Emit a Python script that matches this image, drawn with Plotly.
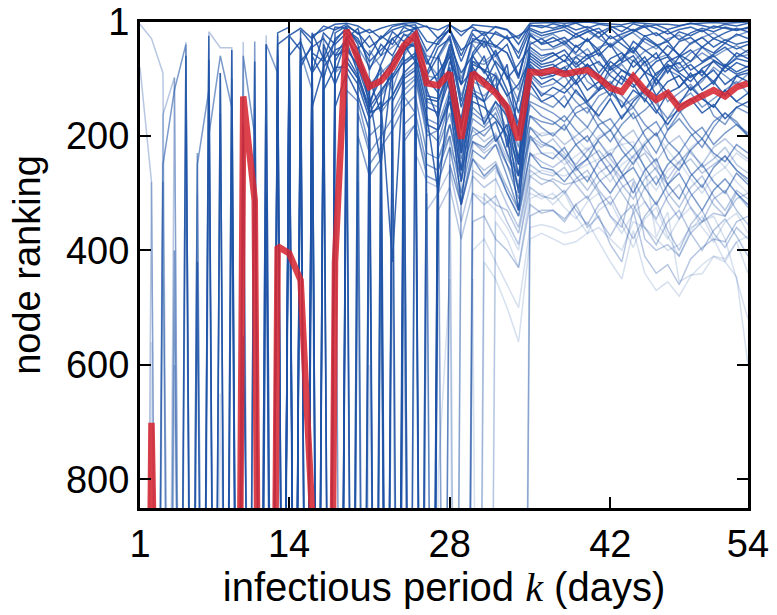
import plotly.graph_objects as go

# ---------------- data ----------------
k_days = list(range(1, 55))

# highlighted node (red)
red_node = [3000, 701, 3000, 3000, 3000, 3000, 3000, 3000, 3000, 131, 312, 3000, 393, 405, 452, 860, 3000, 420,
            15, 65, 114, 104, 80, 42, 24, 108, 112, 90, 205, 90, 106, 125, 150, 207, 88, 90,
            85, 92, 88, 85, 99, 116, 123, 96, 120, 137, 125, 151, 140, 130, 120, 131, 115, 108]

# dark (top-ranked) nodes
d01 = [3000, 3000, 3000, 3000, 3000, 3000, 3000, 3000, 3000, 3000, 3000, 3000, 40, 25, 12, 30, 8, 15,
       5, 22, 14, 30, 9, 4, 12, 8, 30, 6, 18, 10, 25, 9, 14, 40, 6, 11,
       4, 9, 3, 12, 5, 8, 18, 4, 10, 6, 14, 9, 3, 7, 12, 5, 8, 3]
d02 = [3000, 3000, 3000, 3000, 3000, 3000, 3000, 3000, 3000, 180, 3000, 3000, 3000, 60, 35, 90, 20, 40,
       20, 48, 25, 60, 18, 35, 10, 52, 28, 15, 70, 22, 45, 18, 30, 25, 12, 20,
       15, 10, 22, 14, 28, 12, 30, 18, 9, 25, 16, 32, 20, 12, 18, 10, 15, 12]
d03 = [3000, 3000, 3000, 3000, 60, 3000, 3000, 3000, 3000, 3000, 3000, 3000, 50, 3000, 70, 45, 30, 60,
       30, 12, 85, 40, 60, 22, 35, 90, 45, 30, 140, 55, 28, 60, 40, 95, 25, 38,
       28, 40, 22, 35, 18, 45, 30, 52, 25, 40, 60, 35, 28, 45, 30, 38, 22, 30]
d04 = [3000, 3000, 3000, 3000, 3000, 3000, 25, 3000, 3000, 3000, 3000, 3000, 3000, 120, 3000, 55, 70, 35,
       10, 40, 150, 75, 30, 55, 20, 65, 110, 40, 90, 60, 35, 75, 120, 180, 40, 30,
       45, 35, 55, 30, 60, 40, 70, 35, 50, 65, 42, 58, 70, 45, 55, 38, 48, 40]
d05 = [3000, 3000, 3000, 3000, 3000, 3000, 3000, 3000, 3000, 3000, 3000, 40, 3000, 30, 3000, 150, 80, 50,
       40, 3000, 100, 160, 65, 40, 70, 95, 60, 120, 170, 60, 90, 50, 100, 75, 45, 60,
       55, 70, 42, 60, 50, 80, 65, 45, 72, 55, 90, 62, 50, 70, 58, 45, 62, 50]
d06 = [3000, 3000, 3000, 3000, 3000, 3000, 3000, 3000, 3000, 3000, 3000, 3000, 3000, 25, 50, 3000, 45, 3000,
       25, 70, 120, 80, 3000, 35, 45, 110, 90, 55, 190, 70, 85, 120, 75, 200, 55, 70,
       60, 50, 75, 58, 90, 65, 55, 80, 62, 95, 70, 60, 85, 72, 60, 78, 55, 65]
d07 = [3000, 3000, 3000, 3000, 3000, 420, 3000, 3000, 50, 3000, 3000, 3000, 3000, 3000, 80, 40, 3000, 60,
       50, 75, 130, 250, 80, 50, 40, 120, 170, 70, 110, 85, 140, 95, 130, 110, 65, 80,
       75, 90, 62, 80, 70, 95, 110, 68, 88, 100, 75, 90, 105, 82, 70, 88, 72, 80]
d08 = [3000, 3000, 3000, 3000, 3000, 3000, 3000, 3000, 3000, 3000, 3000, 180, 3000, 3000, 3000, 90, 60, 110,
       60, 95, 150, 120, 95, 60, 3000, 135, 140, 85, 230, 95, 60, 125, 150, 250, 75, 95,
       90, 80, 105, 75, 95, 110, 85, 100, 120, 90, 78, 115, 95, 88, 105, 80, 92, 85]
d09 = [3000, 3000, 3000, 3000, 3000, 3000, 3000, 3000, 3000, 3000, 70, 3000, 3000, 3000, 3000, 3000, 120, 80,
       80, 110, 170, 140, 420, 75, 60, 150, 160, 100, 260, 110, 180, 140, 165, 270, 90, 110,
       100, 115, 90, 120, 105, 130, 95, 110, 140, 100, 125, 115, 90, 120, 105, 130, 95, 105]
d10 = [3000, 3000, 3000, 3000, 3000, 3000, 3000, 90, 3000, 3000, 3000, 3000, 3000, 3000, 100, 3000, 3000, 70,
       35, 90, 160, 150, 130, 90, 70, 165, 300, 115, 280, 125, 140, 210, 180, 300, 100, 130,
       115, 125, 105, 140, 120, 110, 150, 120, 135, 160, 125, 145, 115, 135, 150, 120, 140, 125]
d11 = [3000, 3000, 3000, 3000, 3000, 3000, 3000, 3000, 3000, 3000, 3000, 3000, 20, 10, 3000, 25, 15, 5,
       3, 8, 20, 12, 6, 3, 2, 10, 15, 5, 25, 6, 8, 10, 15, 30, 3, 2,
       2, 3, 2, 1, 3, 5, 6, 2, 4, 5, 5, 7, 4, 3, 2, 3, 2, 1]
d12 = [3000, 3000, 3000, 3000, 3000, 3000, 3000, 3000, 3000, 3000, 3000, 3000, 3000, 45, 3000, 3000, 3000, 150,
       90, 130, 190, 3000, 140, 100, 85, 180, 190, 130, 320, 140, 150, 170, 200, 330, 110, 140,
       130, 150, 120, 145, 165, 135, 170, 140, 120, 155, 180, 150, 135, 160, 145, 170, 150, 140]
d13 = [3000, 3000, 3000, 3000, 3000, 3000, 3000, 3000, 3000, 3000, 3000, 3000, 3000, 3000, 15, 40, 3000, 20,
       8, 20, 45, 30, 15, 8, 6, 35, 40, 12, 60, 15, 18, 22, 30, 55, 8, 7,
       12, 6, 15, 9, 20, 10, 8, 16, 6, 12, 22, 14, 10, 18, 8, 12, 16, 10]
d14 = [3000, 3000, 3000, 3000, 3000, 3000, 67, 3000, 3000, 3000, 3000, 3000, 3000, 45, 3000, 60, 100, 30,
       15, 30, 70, 50, 30, 18, 12, 3000, 60, 25, 110, 30, 35, 42, 55, 100, 22, 40,
       35, 28, 45, 32, 50, 25, 40, 55, 30, 42, 35, 60, 38, 28, 45, 32, 40, 35]
d15 = [3000, 3000, 3000, 3000, 3000, 3000, 3000, 3000, 3000, 3000, 3000, 300, 3000, 3000, 3000, 3000, 90, 3000,
       45, 80, 140, 100, 70, 45, 38, 3000, 110, 60, 180, 75, 85, 95, 220, 130, 60, 75,
       70, 58, 80, 65, 55, 85, 72, 60, 90, 70, 62, 88, 75, 95, 68, 80, 65, 70]
d16 = [3000, 3000, 3000, 3000, 3000, 3000, 3000, 3000, 3000, 550, 3000, 3000, 3000, 3000, 30, 3000, 3000, 3000,
       70, 100, 160, 125, 90, 3000, 48, 130, 135, 80, 220, 90, 100, 120, 145, 240, 80, 100,
       95, 85, 110, 90, 120, 80, 100, 115, 90, 130, 105, 95, 120, 100, 85, 110, 95, 90]
d17 = [3000, 3000, 3000, 3000, 3000, 3000, 3000, 3000, 3000, 3000, 3000, 3000, 3000, 3000, 3000, 20, 65, 10,
       12, 35, 60, 25, 40, 10, 20, 75, 35, 15, 50, 35, 20, 45, 25, 65, 15, 25,
       20, 15, 28, 18, 12, 30, 22, 14, 26, 20, 35, 18, 25, 15, 30, 20, 12, 18]
d18 = [3000, 3000, 3000, 3000, 3000, 3000, 3000, 3000, 220, 3000, 3000, 3000, 60, 3000, 3000, 3000, 40, 90,
       30, 60, 110, 3000, 100, 70, 55, 100, 125, 45, 150, 80, 110, 70, 95, 160, 70, 85,
       80, 68, 90, 75, 100, 70, 85, 95, 70, 110, 80, 72, 98, 85, 110, 75, 88, 78]

# medium nodes
m01 = [3000, 3000, 3000, 3000, 3000, 250, 120, 3000, 3000, 3000, 3000, 3000, 3000, 3000, 3000, 60, 3000, 3000,
       3000, 45, 80, 60, 45, 25, 20, 60, 65, 30, 100, 35, 40, 45, 55, 95, 20, 30,
       22, 35, 28, 18, 30, 42, 26, 20, 36, 48, 30, 24, 40, 28, 20, 33, 25, 18]
m02 = [3000, 3000, 3000, 3000, 3000, 3000, 3000, 3000, 3000, 3000, 3000, 40, 90, 3000, 3000, 3000, 3000, 90,
       70, 100, 3000, 130, 100, 70, 60, 140, 150, 95, 180, 105, 115, 90, 130, 190, 80, 90,
       95, 80, 70, 105, 120, 90, 75, 100, 130, 110, 85, 95, 120, 105, 80, 95, 110, 92]
m03 = [3000, 3000, 3000, 3000, 3000, 3000, 3000, 3000, 3000, 3000, 3000, 3000, 130, 3000, 3000, 3000, 3000, 3000,
       150, 3000, 200, 180, 3000, 110, 95, 190, 210, 140, 240, 150, 170, 140, 190, 250, 125, 140,
       150, 130, 165, 185, 150, 125, 140, 170, 155, 135, 190, 160, 140, 125, 165, 180, 150, 160]
m04 = [3000, 3000, 3000, 3000, 3000, 3000, 3000, 3000, 100, 3000, 3000, 3000, 3000, 3000, 3000, 200, 3000, 3000,
       3000, 160, 230, 200, 170, 130, 110, 3000, 220, 160, 260, 170, 185, 160, 210, 270, 145, 165,
       175, 190, 160, 150, 185, 210, 180, 160, 200, 230, 190, 170, 195, 220, 185, 160, 175, 200]
m05 = [3000, 3000, 3000, 3000, 3000, 3000, 3000, 160, 3000, 3000, 3000, 3000, 3000, 70, 3000, 3000, 3000, 3000,
       3000, 3000, 250, 220, 190, 150, 130, 230, 240, 180, 280, 185, 200, 175, 230, 290, 165, 185,
       200, 180, 215, 240, 205, 190, 225, 250, 215, 195, 240, 260, 225, 205, 230, 245, 215, 230]
m06 = [3000, 3000, 250, 120, 40, 3000, 3000, 3000, 3000, 3000, 3000, 3000, 3000, 3000, 55, 120, 3000, 3000,
       120, 140, 220, 3000, 160, 120, 100, 200, 190, 140, 210, 120, 130, 110, 160, 220, 95, 115,
       110, 95, 125, 140, 115, 105, 130, 150, 120, 100, 140, 125, 110, 135, 150, 120, 105, 125]
m07 = [3000, 3000, 3000, 3000, 3000, 3000, 3000, 3000, 3000, 60, 200, 3000, 3000, 3000, 3000, 3000, 3000, 3000,
       3000, 200, 270, 240, 3000, 180, 160, 250, 260, 200, 300, 210, 220, 200, 250, 310, 185, 210,
       220, 240, 215, 200, 235, 265, 240, 220, 255, 285, 250, 230, 265, 290, 255, 235, 260, 275]
m08 = [3000, 3000, 3000, 3000, 3000, 3000, 3000, 3000, 3000, 3000, 35, 3000, 3000, 3000, 3000, 3000, 3000, 3000,
       3000, 60, 110, 90, 70, 45, 3000, 95, 100, 60, 130, 70, 75, 60, 95, 140, 50, 65,
       55, 70, 62, 48, 75, 85, 60, 52, 78, 65, 58, 82, 70, 55, 68, 80, 62, 58]
m09 = [3000, 3000, 3000, 3000, 3000, 230, 3000, 3000, 3000, 3000, 3000, 3000, 3000, 3000, 3000, 3000, 3000, 3000,
       110, 3000, 3000, 160, 130, 95, 80, 170, 180, 120, 230, 130, 140, 120, 170, 240, 105, 125,
       130, 115, 140, 160, 130, 120, 150, 135, 118, 145, 170, 140, 125, 150, 135, 120, 140, 150]
m10 = [3000, 3000, 3000, 400, 3000, 3000, 3000, 3000, 3000, 3000, 3000, 3000, 25, 3000, 3000, 3000, 3000, 3000,
       3000, 3000, 3000, 3000, 3000, 210, 180, 270, 280, 220, 320, 225, 240, 215, 270, 330, 200, 230,
       240, 220, 255, 280, 245, 230, 265, 300, 260, 240, 285, 310, 270, 250, 280, 300, 265, 285]
m11 = [3000, 3000, 3000, 3000, 3000, 3000, 200, 60, 150, 3000, 3000, 3000, 3000, 3000, 3000, 3000, 3000, 110,
       3000, 3000, 50, 80, 120, 60, 30, 70, 95, 50, 110, 40, 70, 55, 90, 120, 35, 50,
       48, 40, 58, 65, 45, 38, 55, 70, 52, 42, 60, 75, 55, 45, 62, 50, 42, 55]
m12 = [3000, 3000, 3000, 3000, 3000, 3000, 3000, 3000, 3000, 3000, 3000, 3000, 3000, 3000, 3000, 3000, 25, 3000,
       3000, 3000, 3000, 250, 3000, 130, 160, 3000, 190, 140, 230, 160, 175, 150, 200, 250, 140, 150,
       160, 175, 150, 140, 170, 190, 165, 150, 180, 200, 170, 155, 185, 205, 175, 160, 180, 195]
m13 = [3000, 3000, 280, 3000, 3000, 3000, 3000, 3000, 3000, 3000, 3000, 3000, 3000, 3000, 45, 3000, 3000, 3000,
       3000, 3000, 3000, 3000, 3000, 3000, 3000, 300, 3000, 250, 320, 240, 270, 250, 300, 340, 230, 255,
       260, 280, 255, 240, 275, 300, 270, 255, 290, 320, 285, 265, 300, 330, 295, 275, 300, 320]
m14 = [3000, 3000, 3000, 3000, 180, 3000, 3000, 90, 3000, 3000, 3000, 3000, 3000, 3000, 3000, 3000, 3000, 3000,
       3000, 280, 3000, 350, 3000, 240, 3000, 3000, 260, 180, 260, 200, 190, 175, 230, 270, 165, 175,
       180, 165, 190, 210, 180, 170, 200, 220, 190, 175, 210, 230, 200, 185, 215, 195, 180, 200]

# light nodes
l01 = [5, 30, 90, 3000, 3000, 3000, 3000, 3000, 3000, 3000, 3000, 3000, 3000, 3000, 3000, 3000, 3000, 3000,
       3000, 3000, 3000, 250, 3000, 200, 180, 260, 3000, 220, 270, 210, 230, 215, 250, 290, 200, 215,
       220, 235, 260, 240, 225, 250, 275, 245, 230, 260, 285, 255, 240, 265, 250, 235, 260, 280]
l02 = [3000, 280, 3000, 3000, 3000, 3000, 3000, 3000, 3000, 3000, 3000, 3000, 3000, 3000, 3000, 3000, 3000, 3000,
       3000, 3000, 3000, 3000, 300, 3000, 230, 280, 290, 3000, 320, 240, 260, 245, 290, 330, 230, 245,
       255, 240, 270, 295, 265, 250, 285, 310, 275, 255, 300, 325, 290, 270, 305, 330, 295, 310]
l03 = [3000, 3000, 3000, 3000, 36, 3000, 3000, 3000, 3000, 3000, 3000, 3000, 3000, 3000, 3000, 3000, 3000, 3000,
       3000, 3000, 3000, 3000, 3000, 3000, 3000, 330, 300, 260, 350, 270, 290, 275, 320, 360, 260, 275,
       280, 300, 275, 260, 295, 320, 290, 275, 315, 345, 305, 285, 325, 350, 310, 295, 330, 355]
l04 = [3000, 3000, 3000, 3000, 3000, 3000, 18, 46, 46, 3000, 3000, 3000, 3000, 3000, 3000, 3000, 3000, 3000,
       3000, 3000, 3000, 3000, 3000, 350, 3000, 3000, 330, 290, 380, 300, 320, 305, 350, 390, 290, 305,
       310, 295, 330, 355, 320, 305, 345, 380, 340, 315, 365, 400, 355, 330, 370, 395, 360, 380]
l05 = [3000, 3000, 3000, 3000, 3000, 3000, 3000, 3000, 3000, 36, 3000, 3000, 3000, 3000, 3000, 3000, 3000, 3000,
       3000, 3000, 3000, 3000, 3000, 3000, 3000, 3000, 3000, 3000, 3000, 350, 340, 380, 400, 430, 320, 335,
       330, 345, 320, 360, 340, 390, 420, 330, 410, 440, 425, 460, 415, 395, 380, 385, 350, 340]
l06 = [3000, 3000, 3000, 3000, 3000, 3000, 3000, 3000, 3000, 3000, 3000, 24, 3000, 3000, 3000, 3000, 3000, 3000,
       3000, 3000, 3000, 3000, 3000, 3000, 3000, 3000, 240, 200, 3000, 210, 225, 205, 250, 280, 205, 220,
       205, 230, 250, 225, 210, 240, 265, 235, 215, 250, 275, 245, 225, 255, 240, 220, 250, 265]
l07 = [3000, 3000, 3000, 98, 3000, 3000, 3000, 3000, 3000, 3000, 3000, 3000, 3000, 3000, 3000, 3000, 3000, 3000,
       3000, 3000, 3000, 3000, 3000, 3000, 3000, 3000, 3000, 3000, 3000, 3000, 300, 320, 330, 370, 270, 285,
       275, 285, 280, 270, 300, 340, 360, 280, 380, 400, 390, 410, 370, 350, 335, 340, 310, 300]
l08 = [3000, 3000, 163, 98, 3000, 3000, 3000, 3000, 3000, 3000, 3000, 3000, 3000, 3000, 3000, 3000, 3000, 3000,
       3000, 3000, 3000, 300, 3000, 3000, 3000, 3000, 3000, 3000, 3000, 260, 275, 255, 300, 340, 250, 265,
       270, 255, 285, 310, 280, 265, 300, 330, 290, 270, 315, 345, 305, 285, 320, 340, 300, 325]
l09 = [80, 280, 3000, 3000, 3000, 3000, 3000, 3000, 3000, 3000, 3000, 3000, 3000, 3000, 3000, 3000, 3000, 3000,
       3000, 250, 3000, 3000, 300, 3000, 3000, 3000, 200, 3000, 240, 190, 210, 195, 240, 270, 185, 200,
       195, 215, 200, 185, 210, 235, 205, 190, 225, 245, 215, 200, 230, 250, 220, 205, 225, 240]
l10 = [3000, 3000, 3000, 600, 3000, 3000, 3000, 3000, 3000, 3000, 150, 3000, 3000, 3000, 3000, 3000, 3000, 3000,
       3000, 3000, 3000, 3000, 3000, 3000, 3000, 3000, 3000, 3000, 3000, 3000, 3000, 3000, 3000, 3000, 340, 330,
       330, 350, 320, 305, 345, 375, 340, 320, 360, 390, 350, 330, 370, 400, 365, 345, 375, 410]

# faint nodes
v01 = [3000, 560, 3000, 3000, 3000, 3000, 3000, 3000, 3000, 3000, 3000, 3000, 3000, 3000, 3000, 3000, 3000, 3000,
       3000, 3000, 3000, 3000, 3000, 3000, 3000, 3000, 790, 450, 3000, 400, 380, 420, 460, 500, 360, 355,
       360, 370, 365, 350, 385, 420, 450, 365, 440, 470, 455, 480, 445, 425, 410, 415, 385, 375]
v02 = [3000, 3000, 3000, 3000, 3000, 3000, 3000, 3000, 3000, 3000, 3000, 3000, 3000, 3000, 3000, 3000, 3000, 3000,
       3000, 3000, 3000, 3000, 3000, 3000, 3000, 3000, 3000, 3000, 3000, 300, 310, 330, 360, 400, 270, 260,
       265, 270, 260, 250, 240, 225, 215, 210, 256, 377, 333, 455, 443, 441, 411, 420, 446, 600]
v03 = [3000, 3000, 450, 3000, 3000, 3000, 3000, 3000, 3000, 3000, 3000, 3000, 3000, 3000, 3000, 3000, 3000, 3000,
       3000, 3000, 3000, 3000, 3000, 3000, 3000, 3000, 3000, 3000, 3000, 3000, 420, 450, 500, 560, 380, 370,
       380, 390, 385, 370, 360, 380, 400, 350, 360, 380, 400, 390, 360, 350, 340, 380, 450, 520]
v04 = [3000, 3000, 3000, 3000, 3000, 3000, 3000, 3000, 50, 3000, 3000, 3000, 3000, 3000, 3000, 3000, 3000, 3000,
       3000, 3000, 3000, 3000, 3000, 3000, 3000, 3000, 3000, 3000, 3000, 3000, 3000, 3000, 3000, 3000, 310, 300,
       320, 300, 340, 370, 330, 315, 355, 395, 345, 325, 375, 410, 365, 340, 380, 420, 385, 440]
v05 = [3000, 3000, 3000, 3000, 3000, 300, 3000, 3000, 3000, 3000, 3000, 3000, 3000, 3000, 3000, 3000, 3000, 3000,
       3000, 3000, 3000, 3000, 3000, 3000, 3000, 3000, 3000, 3000, 3000, 3000, 3000, 260, 290, 330, 235, 230,
       230, 250, 235, 220, 255, 280, 250, 235, 270, 295, 260, 245, 275, 300, 270, 255, 280, 300]
v06 = [3000, 3000, 3000, 3000, 3000, 3000, 3000, 3000, 3000, 3000, 3000, 3000, 3000, 3000, 3000, 3000, 3000, 3000,
       3000, 3000, 600, 3000, 3000, 500, 3000, 3000, 3000, 3000, 3000, 450, 3000, 350, 380, 430, 300, 310,
       300, 325, 345, 315, 300, 340, 370, 335, 315, 350, 380, 345, 325, 360, 385, 350, 335, 370]
v07 = [3000, 3000, 3000, 3000, 3000, 3000, 3000, 650, 3000, 3000, 3000, 3000, 3000, 3000, 3000, 3000, 3000, 3000,
       3000, 3000, 3000, 3000, 3000, 3000, 3000, 3000, 3000, 3000, 3000, 3000, 3000, 3000, 3000, 3000, 210, 195,
       195, 185, 205, 225, 200, 190, 215, 240, 210, 195, 225, 250, 220, 205, 235, 255, 230, 245]

x_tick_vals = [1, 14, 28, 42, 54]
y_tick_vals = [1, 200, 400, 600, 800]

# ---------------- styles ----------------
BLUE = "30,82,166"
groups = [
    ([v01, v02, v03, v04, v05, v06, v07], 0.18),
    ([l01, l02, l03, l04, l05, l06, l07, l08, l09, l10], 0.32),
    ([m01, m02, m03, m04, m05, m06, m07, m08, m09, m10, m11, m12, m13, m14], 0.58),
    ([d01, d02, d03, d04, d05, d06, d07, d08, d09, d10, d11, d12, d13, d14, d15, d16, d17, d18], 0.88),
]

fig = go.Figure()
for series_list, alpha in groups:
    for s in series_list:
        assert len(s) == len(k_days), len(s)
        fig.add_trace(go.Scatter(
            x=k_days, y=s, mode="lines",
            line=dict(color=f"rgba({BLUE},{alpha})", width=1.5),
            hoverinfo="skip", showlegend=False))

assert len(red_node) == len(k_days)
fig.add_trace(go.Scatter(
    x=k_days, y=red_node, mode="lines",
    line=dict(color="rgba(214,40,50,0.88)", width=6.5),
    showlegend=False))

FONT = "Liberation Sans, Arial, Helvetica, sans-serif"
fig.update_layout(
    width=777, height=615,
    margin=dict(l=140, r=29, t=22, b=107),
    paper_bgcolor="white", plot_bgcolor="white",
    font=dict(family=FONT, size=38, color="black"),
    showlegend=False,
)
axis_common = dict(
    showline=True, linecolor="black", linewidth=3, mirror="ticks",
    ticks="inside", ticklen=11, tickwidth=2, tickcolor="black",
    showgrid=False, zeroline=False, automargin=False,
    ticklabeloverflow="allow",
    tickfont=dict(family=FONT, size=38, color="black"),
)
fig.update_xaxes(
    range=[1, 54], tickvals=x_tick_vals, ticktext=[str(v) for v in x_tick_vals],
    title=dict(text="infectious period <span style=\"font-family:Liberation Serif\"><i>k</i></span> (days)",
               font=dict(family=FONT, size=40), standoff=4),
    **axis_common)
fig.update_yaxes(
    range=[850, 1], tickvals=y_tick_vals, ticktext=[str(v) for v in y_tick_vals],
    title=dict(text="node ranking", font=dict(family=FONT, size=38), standoff=14),
    **axis_common)

# remove the default 8px page margin so the figure fills the window exactly
fig.write_html("out.html",
               config={"displayModeBar": False},
               post_script="document.body.style.margin='0px';document.body.style.overflow='hidden';")
